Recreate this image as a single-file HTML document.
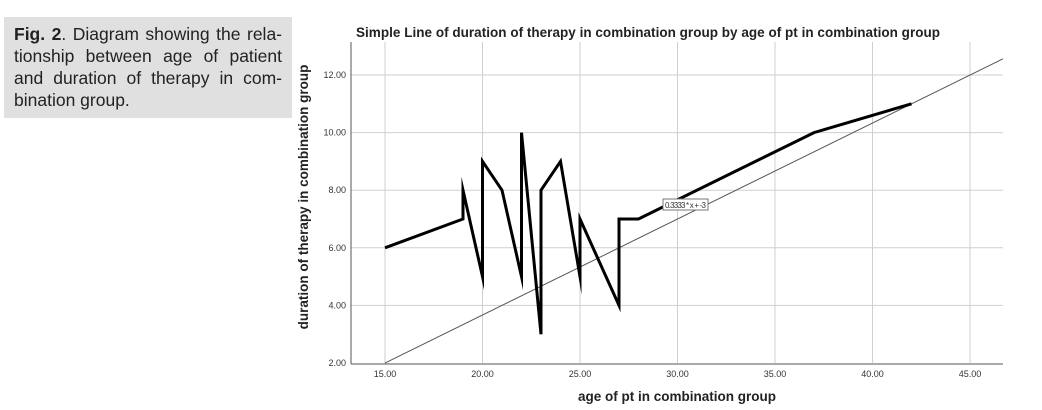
<!DOCTYPE html>
<html><head><meta charset="utf-8"><style>
body{margin:0;width:1042px;height:410px;background:#fff;overflow:hidden;position:relative;font-family:"Liberation Sans",sans-serif}
#cap{position:absolute;left:4px;top:17px;width:268px;height:88px;padding:6px 10px 7px 10px;background:#e0e0e0;font-family:"Liberation Sans",sans-serif;font-size:17.5px;line-height:22px;color:#222}
#cap div{text-align:justify;text-align-last:justify;white-space:nowrap}
#cap div.last{text-align-last:left}
svg{position:absolute;left:0;top:0}
</style></head><body>
<div id="cap"><div><b>Fig. 2</b>. Diagram showing the rela-</div><div>tionship between age of patient</div><div>and duration of therapy in com-</div><div class="last">bination group.</div></div>
<svg id="chart" width="1042" height="410"></svg>
<script>
const ages=[15,19,19,20,20,21,22,22,23,23,24,25,25,27,27,28,37,42];
const durations=[6,7,8,5,9,8,5,10,3,8,9,5,7,4,7,7,10,11];
const xTicks=[15,20,25,30,35,40,45];
const yTicks=[2,4,6,8,10,12];
const fitSlope=0.3333, fitIntercept=-3;
const X=v=>385+(v-15)*19.5;
const Y=v=>363-(v-2)*28.8;
const svg=document.getElementById('chart');
const NS='http://www.w3.org/2000/svg';
function mk(t,a){const e=document.createElementNS(NS,t);for(const k in a)e.setAttribute(k,a[k]);svg.appendChild(e);return e;}
let e;
xTicks.forEach(t=>{
 e=mk('line',{x1:X(t),x2:X(t),y1:42,y2:363,stroke:'#cfcfcf','stroke-width':1});
 
 
 e=mk('text',{x:X(t),y:377,'font-size':9,'text-anchor':'middle',fill:'#333'});e.textContent=t.toFixed(2);
 
 
});
yTicks.forEach(t=>{
 if(t>2){e=mk('line',{x1:351,x2:1003,y1:Y(t),y2:Y(t),stroke:'#cfcfcf','stroke-width':1});
 
 }
 e=mk('text',{x:346,y:Y(t)+3,'font-size':9,'text-anchor':'end',fill:'#333'});e.textContent=t.toFixed(2);
 
 
});
e=mk('line',{x1:351,x2:351,y1:42,y2:364,stroke:'#555','stroke-width':1});


e=mk('line',{x1:351,x2:1003,y1:364,y2:364,stroke:'#555','stroke-width':1});


const x0=15,x1=(1003-385)/19.5+15;
e=mk('line',{x1:X(x0),y1:Y(fitSlope*x0+fitIntercept),x2:X(x1),y2:Y(fitSlope*x1+fitIntercept),stroke:'#555','stroke-width':1});


e=mk('polyline',{points:ages.map((a,i)=>X(a)+','+Y(durations[i])).join(' '),fill:'none',stroke:'#000','stroke-width':3,'stroke-linejoin':'miter','stroke-miterlimit':20});


e=mk('rect',{x:663,y:199,width:45,height:11,fill:'#fff',stroke:'#777','stroke-width':1});


e=mk('text',{x:665,y:208,'font-size':8,fill:'#333',textLength:41});e.textContent='0.3333 * x + -3';


e=mk('text',{x:648,y:37,'font-size':13.5,'font-weight':'bold','text-anchor':'middle',fill:'#222',textLength:584});e.textContent='Simple Line of duration of therapy in combination group by age of pt in combination group';


e=mk('text',{x:677,y:401,'font-size':13.5,'font-weight':'bold','text-anchor':'middle',fill:'#222'});e.textContent='age of pt in combination group';


e=mk('text',{x:0,y:0,'font-size':13.5,'font-weight':'bold','text-anchor':'middle',fill:'#222',transform:'translate(308,197) rotate(-90)'});e.textContent='duration of therapy in combination group';


</script>
</body></html>
